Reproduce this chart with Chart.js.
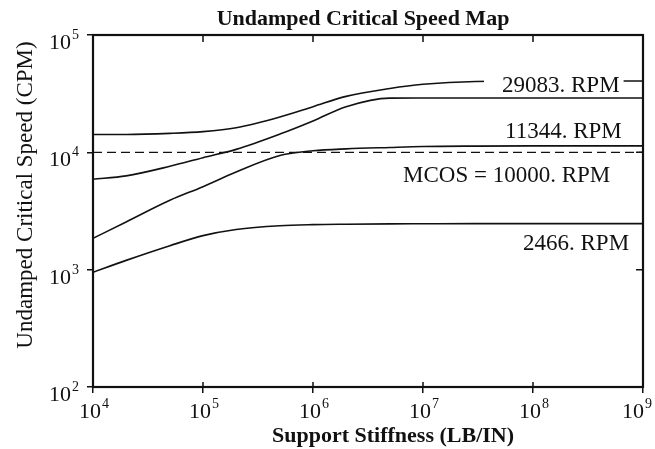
<!DOCTYPE html>
<html>
<head>
<meta charset="utf-8">
<title>Undamped Critical Speed Map</title>
<script src="https://cdn.jsdelivr.net/npm/chart.js@4.4.1/dist/chart.umd.min.js"></script>
<style>
  html, body { margin: 0; padding: 0; background: #fff; }
  #wrap { width: 655px; height: 449px; }
</style>
</head>
<body>
<div id="wrap"><canvas id="csm" width="655" height="449"></canvas></div>
<script>
// support stiffness grid (LB/IN)
const stiffness = [1e4, 2e4, 5e4, 1e5, 2e5, 5e5, 1e6, 2e6, 5e6, 1e7, 3e7, 1e8, 1e9];

// undamped critical speeds (CPM) for each mode
const mode4 = [14200, 14200, 14500, 15000, 16200, 20000, 24500, 30000, 35000, 38000, 40200, 40500, 40500];
const mode3 = [5900, 6300, 7600, 9000, 10600, 14300, 18500, 24500, 29000, 29083, 29083, 29083, 29083];
const mode2 = [1850, 2550, 3900, 5100, 6800, 9400, 10300, 10700, 11000, 11200, 11300, 11344, 11344];
const mode1 = [950, 1200, 1600, 1950, 2200, 2370, 2420, 2440, 2455, 2460, 2466, 2466, 2466];

const mcos = 10000;

const xTicks = [1e4, 1e5, 1e6, 1e7, 1e8, 1e9];
const yTicks = [1e2, 1e3, 1e4, 1e5];

// text callouts placed by the right-hand end of the curves
const callouts = [
  { text: '29083. RPM', x: 502, y: 92, knockout: true },
  { text: '11344. RPM', x: 505, y: 138 },
  { text: 'MCOS = 10000. RPM', x: 403, y: 182 },
  { text: '2466. RPM', x: 523, y: 250 }
];

const SERIF = '"Liberation Serif", "Times New Roman", serif';

function pts(vals) {
  return stiffness.map((s, i) => ({ x: s, y: vals[i] }));
}

function curve(vals) {
  return {
    data: pts(vals),
    borderColor: '#111',
    borderWidth: 1.6,
    pointRadius: 0,
    cubicInterpolationMode: 'monotone',
    fill: false
  };
}

// frame, inner ticks, power-of-ten labels and titles
const decorate = {
  id: 'decorate',
  afterDraw(chart) {
    const { ctx, chartArea: a, scales } = chart;
    const xs = scales.x, ys = scales.y;
    ctx.save();
    ctx.strokeStyle = '#111';
    ctx.lineWidth = 2.2;
    ctx.strokeRect(a.left, a.top, a.right - a.left, a.bottom - a.top);

    // inward ticks on top and right, crossing ticks on bottom
    ctx.lineWidth = 1.5;
    ctx.beginPath();
    xTicks.forEach(v => {
      const px = xs.getPixelForValue(v);
      ctx.moveTo(px, a.top); ctx.lineTo(px, a.top + 7);
      ctx.moveTo(px, a.bottom); ctx.lineTo(px, a.bottom - 5);
    });
    yTicks.forEach(v => {
      const py = ys.getPixelForValue(v);
      ctx.moveTo(a.right, py); ctx.lineTo(a.right - 7, py);
    });
    ctx.stroke();

    ctx.fillStyle = '#111';
    // power-of-ten tick labels
    function pow10(base, exp, x, y, align) {
      ctx.font = '22px ' + SERIF;
      const wb = ctx.measureText(base).width;
      ctx.font = '14px ' + SERIF;
      const we = ctx.measureText(exp).width;
      let left = align === 'right' ? x - wb - we : x - wb / 2 - 3;
      left = Math.min(left, chart.width - 4 - wb - we);
      ctx.textAlign = 'left';
      ctx.textBaseline = 'alphabetic';
      ctx.font = '22px ' + SERIF;
      ctx.fillText(base, left, y);
      ctx.font = '14px ' + SERIF;
      ctx.fillText(exp, left + wb + 1, y - 10);
    }
    yTicks.forEach(v => {
      const py = ys.getPixelForValue(v);
      pow10('10', String(Math.round(Math.log10(v))), 78, py + 14, 'right');
    });
    xTicks.forEach(v => {
      const px = xs.getPixelForValue(v);
      pow10('10', String(Math.round(Math.log10(v))), px, 418, 'center');
    });

    // callouts
    ctx.font = '23px ' + SERIF;
    ctx.textAlign = 'left';
    ctx.textBaseline = 'alphabetic';
    callouts.forEach(c => {
      if (c.knockout) {
        const w = ctx.measureText(c.text).width;
        ctx.fillStyle = '#fff';
        ctx.fillRect(c.x - 18, c.y - 18, w + 22, 22);
      }
      ctx.fillStyle = '#111';
      ctx.fillText(c.text, c.x, c.y);
    });

    // titles
    ctx.textAlign = 'center';
    ctx.font = 'bold 22px ' + SERIF;
    ctx.fillText('Undamped Critical Speed Map', 363, 25);
    ctx.fillText('Support Stiffness (LB/IN)', 393, 442);

    ctx.translate(26, 195);
    ctx.rotate(-Math.PI / 2);
    ctx.textBaseline = 'middle';
    ctx.font = '23px ' + SERIF;
    ctx.fillText('Undamped Critical Speed (CPM)', 0, 0);
    ctx.restore();
  }
};

new Chart(document.getElementById('csm'), {
  type: 'line',
  data: {
    datasets: [
      curve(mode4),
      curve(mode3),
      curve(mode2),
      curve(mode1),
      {
        data: [{ x: xTicks[0], y: mcos }, { x: xTicks[xTicks.length - 1], y: mcos }],
        borderColor: '#111',
        borderWidth: 1.4,
        borderDash: [9, 5],
        pointRadius: 0
      }
    ]
  },
  options: {
    responsive: false,
    animation: false,
    events: [],
    layout: { padding: { top: 35, right: 12, left: 0, bottom: 0 } },
    plugins: {
      legend: { display: false },
      tooltip: { enabled: false },
      title: { display: false }
    },
    scales: {
      x: {
        type: 'logarithmic',
        min: 1e4,
        max: 1e9,
        afterBuildTicks: s => { s.ticks = xTicks.map(v => ({ value: v })); },
        afterFit: s => { s.height = 62; },
        ticks: { display: false },
        grid: { drawOnChartArea: false, drawTicks: true, tickLength: 6, color: '#111', lineWidth: 1.5 },
        border: { display: false }
      },
      y: {
        type: 'logarithmic',
        min: 1e2,
        max: 1e5,
        afterBuildTicks: s => { s.ticks = yTicks.map(v => ({ value: v })); },
        afterFit: s => { s.width = 93; },
        ticks: { display: false },
        grid: { drawOnChartArea: false, drawTicks: true, tickLength: 6, color: '#111', lineWidth: 1.5 },
        border: { display: false }
      }
    }
  },
  plugins: [decorate]
});
</script>
</body>
</html>
